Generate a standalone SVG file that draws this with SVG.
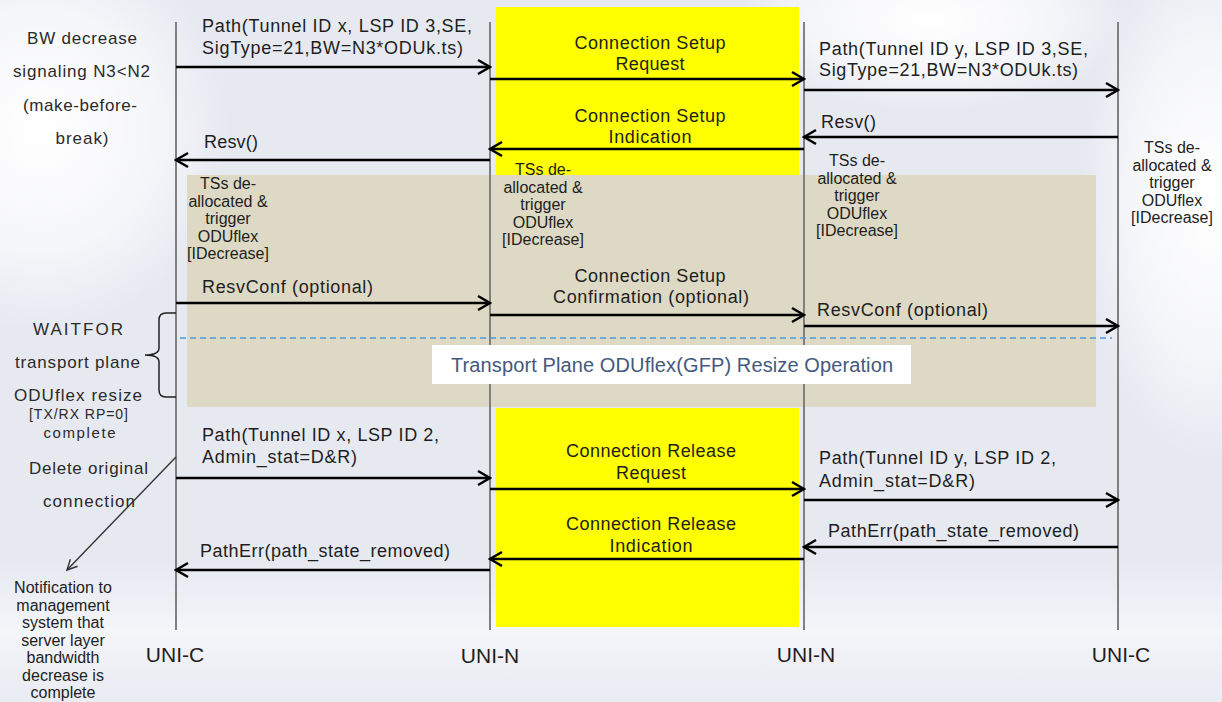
<svg xmlns="http://www.w3.org/2000/svg" width="1222" height="702" viewBox="0 0 1222 702">
<defs>
<radialGradient id="gL" cx="0.5" cy="0.5" r="0.5"><stop offset="0" stop-color="#ffffff" stop-opacity="1"/><stop offset="0.6" stop-color="#ffffff" stop-opacity="0.6"/><stop offset="1" stop-color="#ffffff" stop-opacity="0"/></radialGradient>
<linearGradient id="gB" x1="0" y1="0" x2="0" y2="1"><stop offset="0" stop-color="#f3f4f8" stop-opacity="0"/><stop offset="0.5" stop-color="#f6f7fa" stop-opacity="0.9"/><stop offset="1" stop-color="#eceef4" stop-opacity="0.5"/></linearGradient>
<marker id="ah" markerUnits="userSpaceOnUse" markerWidth="16" markerHeight="18" viewBox="-2 -2 16 18" refX="12" refY="7" orient="auto"><path d="M0,0 L12,7 L0,14" fill="none" stroke="#000" stroke-width="2.5"/></marker>
<marker id="ah2" markerUnits="userSpaceOnUse" markerWidth="14" markerHeight="14" viewBox="-2 -2 14 14" refX="10" refY="5" orient="auto"><path d="M0,0 L10,5 L0,10" fill="none" stroke="#333" stroke-width="1.4"/></marker>
<style>
.t{font-family:"Liberation Sans",Arial,sans-serif;fill:#1e1e1e}
.a{font-size:18px}
.l{font-size:17px;fill:#2a2a2a}
.s{font-size:16px}
.c{text-anchor:middle}
.ll{stroke:#808080;stroke-width:2}
.ar{stroke:#000;stroke-width:2.5;fill:none;marker-end:url(#ah)}
</style>
</defs>
<g id="background">
<rect x="0" y="0" width="1222" height="702" fill="#e7e9f1"/>
<ellipse cx="40" cy="130" rx="190" ry="200" fill="url(#gL)"/>
<ellipse cx="1210" cy="200" rx="130" ry="260" fill="url(#gL)"/>
<ellipse cx="930" cy="20" rx="200" ry="90" fill="url(#gL)"/>
<rect x="0" y="560" width="1222" height="142" fill="url(#gB)"/>
</g>
<g id="yellow-setup"><rect x="496" y="7" width="303" height="168" fill="#ffff00"/></g>
<g id="yellow-release"><rect x="496" y="408" width="303" height="219" fill="#ffff00"/></g>
<g id="transport-band"><rect x="187" y="175" width="909" height="232" fill="#ddd9c4"/></g>
<g id="lifelines">
<line class="ll" x1="176" y1="22" x2="176" y2="630"/>
<line class="ll" x1="490" y1="22" x2="490" y2="630"/>
<line class="ll" x1="804" y1="22" x2="804" y2="630"/>
<line class="ll" x1="1118" y1="22" x2="1118" y2="630"/>
</g>
<g id="resize-operation">
<line x1="180" y1="338" x2="1112" y2="338" stroke="#4a9ad6" stroke-width="1.5" stroke-dasharray="6,4"/>
<rect x="432" y="345" width="479" height="39" fill="#ffffff"/>
<text class="t c" x="672" y="372" font-size="20" style="fill:#44597d" textLength="442">Transport Plane ODUflex(GFP) Resize Operation</text>
</g>
<g id="connectors">
<line class="ar" x1="176" y1="67" x2="490" y2="67"/>
<line class="ar" x1="490" y1="79" x2="804" y2="79"/>
<line class="ar" x1="804" y1="90" x2="1118" y2="90"/>
<line class="ar" x1="1118" y1="137" x2="804" y2="137"/>
<line class="ar" x1="804" y1="149" x2="490" y2="149"/>
<line class="ar" x1="490" y1="160" x2="176" y2="160"/>
<line class="ar" x1="176" y1="303" x2="490" y2="303"/>
<line class="ar" x1="490" y1="315" x2="804" y2="315"/>
<line class="ar" x1="804" y1="326" x2="1118" y2="326"/>
<line class="ar" x1="176" y1="478" x2="490" y2="478"/>
<line class="ar" x1="490" y1="489" x2="804" y2="489"/>
<line class="ar" x1="804" y1="500" x2="1118" y2="500"/>
<line class="ar" x1="1118" y1="547" x2="804" y2="547"/>
<line class="ar" x1="804" y1="559" x2="490" y2="559"/>
<line class="ar" x1="490" y1="570" x2="176" y2="570"/>
<line x1="176" y1="457" x2="67" y2="570" stroke="#333" stroke-width="1.4" marker-end="url(#ah2)"/>
<path d="M176,313 L166,313 Q159,313 159,320 L159,348 Q159,355 145,355 Q159,355 159,362 L159,390 Q159,397 166,397 L176,397" fill="none" stroke="#222" stroke-width="1.5"/>
</g>
<g id="labels-setup">
<text class="t a" x="202" y="32" textLength="270">Path(Tunnel  ID  x, LSP ID 3,SE,</text>
<text class="t a" x="202" y="54" textLength="261">SigType=21,BW=N3*ODUk.ts)</text>
<text class="t a c" x="650" y="49" textLength="151">Connection Setup</text>
<text class="t a c" x="650" y="70" textLength="69">Request</text>
<text class="t a" x="819" y="55" textLength="269">Path(Tunnel  ID  y, LSP ID 3,SE,</text>
<text class="t a" x="819" y="76" textLength="259">SigType=21,BW=N3*ODUk.ts)</text>
<text class="t a" x="821" y="128" textLength="55">Resv()</text>
<text class="t a c" x="650" y="122" textLength="151">Connection Setup</text>
<text class="t a c" x="650" y="143" textLength="83">Indication</text>
<text class="t a" x="204" y="148" textLength="54">Resv()</text>
<text class="t a" x="202" y="293" textLength="171">ResvConf (optional)</text>
<text class="t a c" x="650" y="282" textLength="151">Connection Setup</text>
<text class="t a c" x="651" y="303" textLength="196">Confirmation (optional)</text>
<text class="t a" x="817" y="316" textLength="171">ResvConf (optional)</text>
</g>
<g id="tss-notes">
<text class="t s c" x="228" y="189">TSs de-</text>
<text class="t s c" x="228" y="206.5">allocated &amp;</text>
<text class="t s c" x="228" y="224">trigger</text>
<text class="t s c" x="228" y="241.5">ODUflex</text>
<text class="t s c" x="228" y="259">[IDecrease]</text>
<text class="t s c" x="543" y="175">TSs de-</text>
<text class="t s c" x="543" y="192.5">allocated &amp;</text>
<text class="t s c" x="543" y="210">trigger</text>
<text class="t s c" x="543" y="227.5">ODUflex</text>
<text class="t s c" x="543" y="245">[IDecrease]</text>
<text class="t s c" x="857" y="166">TSs de-</text>
<text class="t s c" x="857" y="183.5">allocated &amp;</text>
<text class="t s c" x="857" y="201">trigger</text>
<text class="t s c" x="857" y="218.5">ODUflex</text>
<text class="t s c" x="857" y="236">[IDecrease]</text>
<text class="t s c" x="1172" y="153">TSs de-</text>
<text class="t s c" x="1172" y="170.5">allocated &amp;</text>
<text class="t s c" x="1172" y="188">trigger</text>
<text class="t s c" x="1172" y="205.5">ODUflex</text>
<text class="t s c" x="1172" y="223">[IDecrease]</text>
</g>
<g id="labels-release">
<text class="t a" x="202" y="441" textLength="237">Path(Tunnel  ID  x, LSP ID 2,</text>
<text class="t a" x="202" y="463" textLength="155">Admin_stat=D&amp;R)</text>
<text class="t a c" x="651" y="457" textLength="170">Connection Release</text>
<text class="t a c" x="651" y="479" textLength="70">Request</text>
<text class="t a c" x="651" y="530" textLength="170">Connection Release</text>
<text class="t a c" x="651" y="552" textLength="83">Indication</text>
<text class="t a" x="819" y="464" textLength="237">Path(Tunnel  ID  y, LSP ID 2,</text>
<text class="t a" x="819" y="487" textLength="156">Admin_stat=D&amp;R)</text>
<text class="t a" x="828" y="537" textLength="251">PathErr(path_state_removed)</text>
<text class="t a" x="200" y="557" textLength="250">PathErr(path_state_removed)</text>
</g>
<g id="side-notes">
<text class="t l c" x="82" y="44" textLength="110">BW decrease</text>
<text class="t l c" x="81.5" y="77" textLength="137">signaling N3&lt;N2</text>
<text class="t l c" x="80" y="111" textLength="114">(make-before-</text>
<text class="t l c" x="82" y="144" textLength="53">break)</text>
<text class="t l c" x="78" y="335" textLength="90">WAITFOR</text>
<text class="t l c" x="77.5" y="368" textLength="125">transport plane</text>
<text class="t l c" x="78" y="401" textLength="128">ODUflex resize</text>
<text class="t c" x="78.5" y="419" font-size="14" style="fill:#2a2a2a" textLength="99">[TX/RX RP=0]</text>
<text class="t c" x="79.5" y="438" font-size="15" style="fill:#2a2a2a" textLength="72">complete</text>
<text class="t l c" x="88.5" y="474" textLength="119">Delete original</text>
<text class="t l c" x="89" y="507" textLength="92">connection</text>
<text class="t s c" x="63" y="593" textLength="98">Notification to</text>
<text class="t s c" x="63" y="610.5">management</text>
<text class="t s c" x="63" y="628">system that</text>
<text class="t s c" x="63" y="645.5">server layer</text>
<text class="t s c" x="63" y="663">bandwidth</text>
<text class="t s c" x="63" y="680.5">decrease is</text>
<text class="t s c" x="63" y="698">complete</text>
</g>
<g id="node-uni-c-left"><text class="t c" x="175" y="662" font-size="21">UNI-C</text></g>
<g id="node-uni-n-left"><text class="t c" x="490" y="663" font-size="21">UNI-N</text></g>
<g id="node-uni-n-right"><text class="t c" x="806" y="662" font-size="21">UNI-N</text></g>
<g id="node-uni-c-right"><text class="t c" x="1121" y="662" font-size="21">UNI-C</text></g>
</svg>
